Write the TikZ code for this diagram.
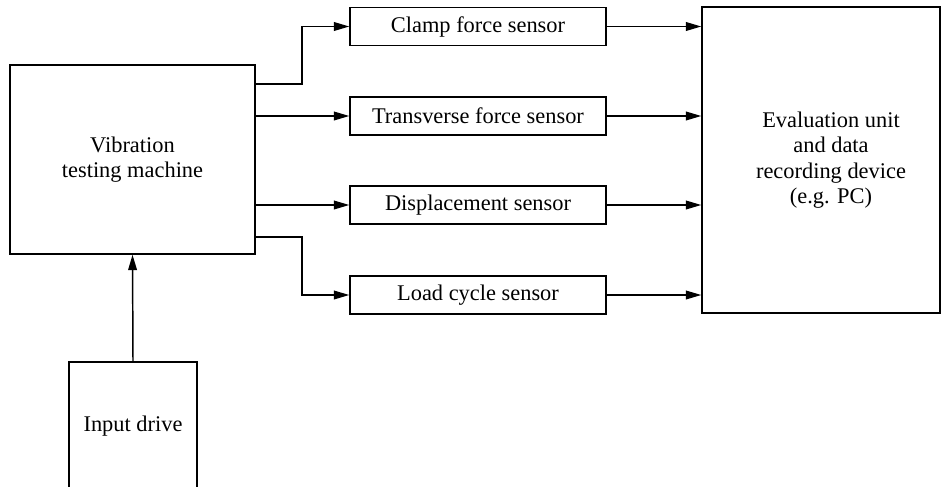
\documentclass[tikz,border=0pt]{standalone}
\usepackage{fontspec}
\setmainfont{Liberation Serif}
\usetikzlibrary{arrows.meta}
\begin{document}
\begin{tikzpicture}[x=0.75pt,y=-0.75pt,
  line width=1.1pt,
  txt/.style={align=center,font=\fontsize{16.8}{19}\selectfont},
  box/.style={draw,rectangle,inner sep=0pt,txt},
  sensor/.style={box,minimum width=192pt,minimum height=28.5pt},
  arr/.style={-{Triangle[length=11.5pt,width=6.5pt]}}]
\useasboundingbox (0,0) rectangle (944,486);
\clip (0,0) rectangle (944,486);
% main blocks
\node[box,minimum width=183.75pt,minimum height=141.75pt] (vm) at (132.5,159.5)
  {Vibration\\testing machine};
\node[box,minimum width=96pt,minimum height=96pt] (in) at (133,426) {Input drive};
\node[box,minimum width=178.5pt,minimum height=229.5pt] (ev) at (821,160) {};
\node[txt] (evt) at (831,160)
  {Evaluation unit\\and data\\recording device\\(e.g. PC)};
% sensors
\node[sensor] (s1) at (478,26.5) {Clamp force sensor};
\node[sensor] (s2) at (478,116) {Transverse force sensor};
\node[sensor] (s3) at (478,205) {Displacement sensor};
\node[sensor] (s4) at (478,295) {Load cycle sensor};
% machine to sensors
\draw[arr] (vm.east |- 0,84) -| (302,26.5) -- (s1.west);
\draw[arr] (vm.east |- s2) -- (s2.west);
\draw[arr] (vm.east |- s3) -- (s3.west);
\draw[arr] (vm.east |- 0,237) -| (302,295) -- (s4.west);
% sensors to evaluation unit
\draw[arr] (s1.east) -- (ev.west |- s1);
\draw[arr] (s2.east) -- (ev.west |- s2);
\draw[arr] (s3.east) -- (ev.west |- s3);
\draw[arr] (s4.east) -- (ev.west |- s4);
% drive to machine
\draw[arr] (in.north) -- (vm.south);
\end{tikzpicture}
\end{document}
